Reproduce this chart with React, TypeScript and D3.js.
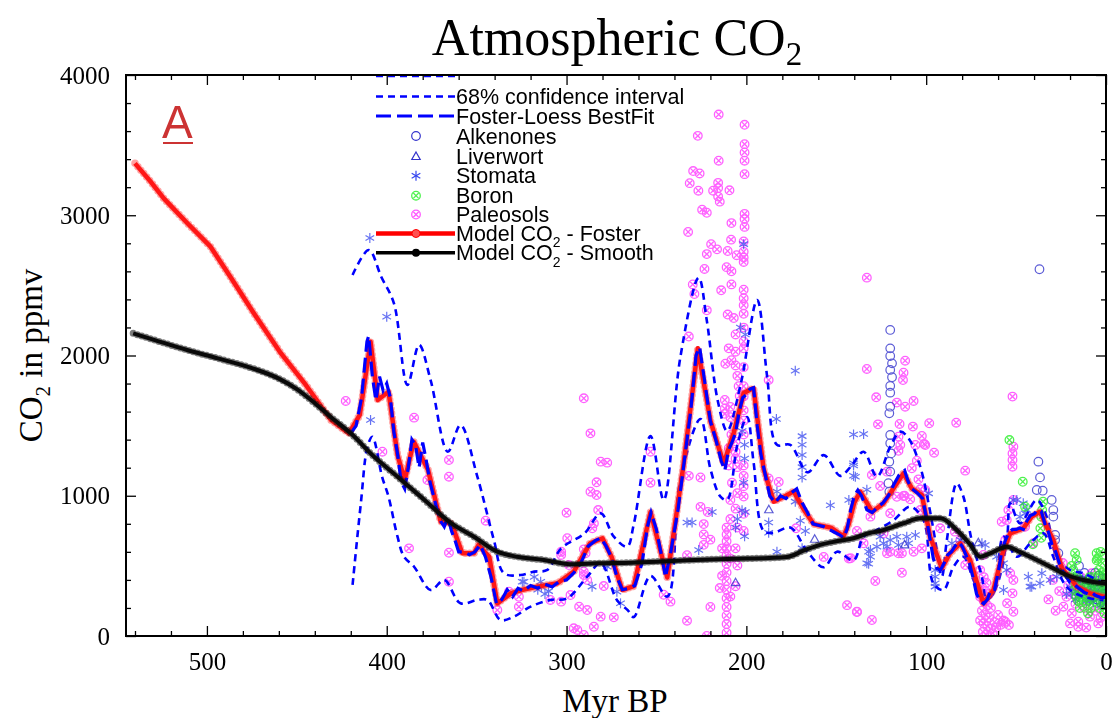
import React, { useEffect, useRef } from 'react'
import * as d3 from 'd3'

// ---- data (age in Myr BP, CO2 in ppmv) ----
const modelFoster: [number, number][] = [
  [540, 3370], [531, 3235], [524, 3120], [511, 2945], [498, 2776], [487, 2562], [474, 2303],
  [459, 2018], [445, 1790], [431, 1540], [421, 1445], [415, 1576], [409, 2098], [405, 1683],
  [399, 1742], [394, 1290], [390, 1112], [385, 1386], [377, 1184], [370, 815], [364, 803],
  [358, 590], [351.5, 590], [349, 649], [343, 565], [338.5, 233], [331, 304], [325, 328],
  [316, 352], [305, 376], [296, 459], [287, 661], [280, 697], [275, 565], [269, 328],
  [262.6, 355], [253.3, 884], [244, 417], [235, 1216], [227, 2051], [220, 1535], [212.6, 1228],
  [207, 1450], [201.5, 1732], [196, 1768], [190.4, 1191], [184.8, 958], [178, 1000],
  [173.7, 1031], [168, 900], [162.6, 798], [153, 773], [146, 711], [143, 800], [140, 950],
  [136.7, 1029], [130, 886], [123.7, 946], [112.6, 1160], [108, 1053], [102.4, 1005],
  [97.8, 708], [91.3, 483], [86.7, 590], [81, 661], [75.6, 542], [68.2, 233], [62.6, 328],
  [57, 613], [53.3, 732], [46, 768], [41.3, 851], [36.7, 886], [33, 779], [29.3, 684],
  [24.6, 483], [19, 399], [16.3, 352], [8.9, 304], [1.5, 280], [0, 280],
]

const modelSmooth: [number, number][] = [
  [541, 2158], [529, 2110], [511, 2039], [494, 1980], [475, 1910], [460, 1835], [450, 1760],
  [440, 1660], [431, 1560], [420, 1445], [407, 1278], [394, 1136], [379, 970], [364, 803],
  [351.5, 708], [338.5, 601], [327.5, 565], [312.6, 542], [298, 512], [283, 518], [264, 523],
  [250, 530], [233, 540], [215, 548], [199.6, 552], [177.4, 564], [168, 610], [159, 650],
  [150, 675], [141, 695], [131, 736], [127, 745], [112.6, 804], [103.3, 839], [92, 839],
  [83, 756], [76, 660], [70, 565], [64.4, 590], [55.2, 637], [48, 600], [42.2, 565], [31, 494],
  [22, 435], [12.6, 399], [1.5, 376], [0, 375],
]

const fosterFit: [number, number][] = [
  [420, 1445], [417, 1500], [414, 1700], [411, 2100], [410, 2140], [408, 1850], [406, 1680],
  [404, 1850], [402, 1750], [400, 1800], [398, 1700], [396, 1450], [394, 1300], [392, 1100],
  [390, 1050], [388, 1200], [386, 1400], [384, 1360], [382, 1200], [380, 1380], [378, 1250],
  [376, 1100], [374, 1000], [372, 900], [370, 820], [368, 780], [366, 850], [364, 750],
  [362, 680], [360, 600], [357, 600], [354, 580], [351, 600], [348, 650], [345, 560],
  [342, 420], [339, 230], [336, 260], [333, 330], [330, 280], [327, 340], [324, 320],
  [320, 360], [316, 340], [312, 370], [308, 350], [304, 390], [300, 400], [296, 450],
  [292, 520], [288, 640], [284, 680], [281, 700], [278, 640], [275, 560], [272, 420],
  [269, 330], [265, 340], [262, 360], [258, 520], [255, 780], [253, 880], [250, 760],
  [247, 560], [245, 420], [242, 600], [238, 900], [235, 1200], [231, 1600], [228, 2000],
  [226, 2060], [223, 1800], [220, 1530], [217, 1400], [214, 1250], [212, 1180], [210, 1320],
  [208, 1380], [206, 1450], [204, 1600], [202, 1700], [200, 1720], [198, 1760], [196, 1770],
  [194, 1500], [192, 1300], [190, 1180], [187, 1000], [184, 950], [181, 1000], [178, 980],
  [175, 1020], [172, 1050], [169, 950], [166, 880], [163, 800], [160, 790], [157, 780],
  [154, 760], [151, 740], [148, 720], [146, 700], [144, 760], [142, 900], [140, 1000],
  [138, 1040], [136, 1000], [133, 900], [130, 880], [127, 920], [124, 950], [121, 1000],
  [118, 1080], [115, 1150], [112, 1180], [110, 1100], [108, 1050], [105, 1020], [102, 980],
  [100, 850], [98, 700], [96, 550], [94, 480], [92, 470], [90, 520], [88, 580], [86, 600],
  [84, 640], [82, 670], [80, 640], [78, 580], [76, 520], [74, 420], [72, 300], [70, 250],
  [68, 230], [66, 260], [64, 330], [62, 330], [60, 450], [58, 600], [56, 680], [54, 740],
  [52, 760], [50, 760], [48, 770], [46, 760], [44, 820], [42, 860], [40, 870], [38, 900],
  [36, 890], [34, 800], [32, 740], [30, 650], [28, 600], [26, 520], [24, 460], [22, 420],
  [20, 380], [18, 370], [16, 350], [14, 330], [12, 310], [10, 300], [8, 310], [6, 290],
  [4, 280], [2, 270], [0, 280],
]

const ciUpper: [number, number][] = [
  [419, 2574], [410, 2752], [403, 2560], [396, 2372], [388.5, 1790], [382, 2075], [375.6, 1825],
  [366, 1314], [359, 1504], [349.6, 1136], [340.4, 684], [334.8, 447], [325.6, 435], [318, 459],
  [310.7, 471], [303, 625], [290, 732], [281, 875], [273.7, 708], [266.3, 637], [262.6, 798],
  [253.3, 1426], [246, 970], [236.7, 1989], [226.5, 2555], [222, 2249], [216, 1683],
  [210.7, 1462], [203, 1805], [194, 2396], [188.5, 1855], [183, 1363], [175.6, 1363],
  [166, 1167], [157, 1290], [147.8, 1142], [142, 1207], [134.8, 1314], [127.4, 1136],
  [120, 1350], [114.4, 1457], [109.8, 1410], [103.3, 1207], [98, 900], [95, 684], [91.3, 423],
  [88.5, 684], [83, 1089], [79.3, 993], [75, 700], [69, 420], [66.3, 257], [61, 350],
  [55, 700], [53.3, 946], [47.8, 803], [38.5, 970], [33, 851], [27.4, 565], [20, 471],
  [12.6, 447], [1.5, 376],
]

const ciLower: [number, number][] = [
  [419, 364], [414.4, 946], [410.7, 1350], [408, 1421], [402.6, 1136], [399, 993], [394, 708],
  [390.4, 565], [384.8, 494], [375.6, 328], [368, 399], [359, 233], [349.6, 257], [344, 257],
  [336.7, 114], [329.3, 138], [320, 209], [309, 257], [299.6, 269], [288.5, 423], [281, 518],
  [272, 257], [266, 185], [262.6, 135], [253.3, 428], [244, 281], [236.7, 1117], [225.5, 1547],
  [220, 1191], [214.4, 994], [210.7, 970], [205, 1363], [199.6, 1562], [196, 1241],
  [190.4, 749], [184.8, 736], [175.6, 773], [166, 601], [157, 490], [149.6, 601], [140.4, 540],
  [134.8, 708], [127.4, 756], [118, 827], [109, 922], [101.5, 827], [96, 376], [90.4, 328],
  [84.8, 494], [79.3, 565], [73.7, 399], [68.2, 257], [62.6, 304], [57, 708], [49.6, 565],
  [42.2, 661], [34.8, 732], [29.3, 565], [22, 352], [12.6, 280], [1.5, 257],
]

const paleosols: [number, number][] = [
  [422.8, 1676], [384.8, 1557], [402.4, 1314], [365.4, 1255], [365.4, 1136], [377.4, 1112],
  [387.6, 625], [365.4, 594], [365.4, 387], [345, 822], [338.5, 185], [290.4, 1695],
  [286.7, 1445], [281, 1243], [277.4, 1236], [283.3, 1096], [286.7, 1029], [283.3, 1005],
  [282.4, 898], [300, 879], [284.8, 803], [285.7, 768], [299.6, 697], [303, 601], [303, 578],
  [290.4, 618], [290.4, 459], [297.8, 292], [288.5, 399], [279.3, 356], [303, 245], [293, 209],
  [288.5, 185], [281, 138], [273.7, 133], [296, 55], [294, 43], [290.4, 7], [284.8, 66],
  [326.5, 209], [332, 316], [298.7, 506], [326.5, 280], [309, 257], [289.4, 590], [290.4, 435],
  [253.3, 1314], [253.3, 1093], [246, 294], [242.2, 245], [233, 576], [233, 109], [232, 1142],
  [232, 2135], [232.4, 2881],
  [215.4, 3718], [201, 3645], [227, 3566], [215.4, 3389], [201, 3507], [201, 3448], [201, 3389],
  [201, 3293], [229.6, 3315], [226, 3298], [231.5, 3229], [226.7, 3175], [218.5, 3175],
  [215.7, 3231], [215.7, 3194], [215.7, 3133], [214.8, 3097], [209.4, 3178], [224.6, 3040],
  [222, 3018], [201, 3010], [201, 2973], [201, 2917], [208.3, 2944], [219.6, 2794],
  [216.3, 2757], [208.5, 2826], [201.5, 2813], [201.5, 2740], [201.5, 2698], [201.5, 2667],
  [210.4, 2745], [222, 2723], [205.4, 2715], [223.3, 2617], [211, 2630], [208.3, 2600],
  [214, 2465], [229.8, 2507], [228.9, 2438], [208.3, 2507], [201.5, 2469], [201.5, 2408],
  [201.5, 2359], [201.5, 2297], [222, 2322], [210.4, 2292], [207, 2267], [206, 2150],
  [201.5, 2199], [201.5, 2100], [201.5, 2051], [209.8, 2051], [206, 2027], [208.3, 1966],
  [211.7, 1941], [206, 1929], [205, 1855], [201.5, 1917], [187.6, 1825], [204.3, 1781],
  [203.7, 1712], [212, 1683], [212, 1621], [212, 1584], [208.9, 1634], [208.9, 1560],
  [201.5, 1781], [201.5, 1707], [201.5, 1609], [201.5, 1535], [201.5, 1437], [208.3, 1437],
  [206, 1388], [209.8, 1339], [206, 1314], [206, 1265], [209.8, 1216], [205, 1204],
  [201.5, 1216], [201.5, 1142], [201.5, 1068], [201.5, 994], [208, 1093], [205, 1019],
  [208.9, 970], [206, 908], [208.9, 834], [205, 773], [201.5, 871], [201.5, 749], [211, 773],
  [211, 724], [211, 675], [211, 625], [211, 576], [211, 515], [211, 453], [211, 392], [211, 330],
  [211, 269], [211, 207], [211, 146], [211, 85], [211, 23], [213.5, 625], [213.5, 429],
  [208.9, 552], [206, 625], [205, 503], [206, 355], [214.8, 342], [208.9, 281], [222, 0],
  [221.5, 884], [223.7, 798], [223.7, 724], [223.7, 650], [220, 687], [225.5, 1130],
  [220, 207], [225.5, 921], [187.6, 1123], [182, 1098], [172.4, 768], [157, 564], [143, 552],
  [144, 220], [138.5, 171], [133, 2555], [133, 1904],
  [127.8, 1702], [111.7, 1963], [112.6, 1877], [112.9, 1825], [116.3, 1664], [111.7, 1635],
  [107, 1676], [126.8, 1509], [114.8, 1512], [107.4, 1493], [98.3, 1517], [83.3, 1521],
  [115.4, 1421], [114.4, 1362], [102.4, 1426], [101.1, 1369], [95.6, 1307], [105.2, 1250],
  [108, 1196], [104.3, 1117], [103.3, 1046], [125.6, 1070], [130.2, 1148], [116.3, 993],
  [112.6, 998], [108.9, 975], [103.3, 898], [120, 875], [123.7, 732], [131, 851], [138.5, 749],
  [134.8, 661], [120, 601], [113.5, 590], [107, 601], [102.4, 625], [78.3, 1179], [81, 684],
  [78.3, 506], [142, 554], [113.5, 451], [128.3, 392], [138.5, 173], [130.2, 114],
  [115.4, 1320], [106, 1362], [100.5, 1362], [121.8, 1172], [112, 1000], [100.5, 1041],
  [121.8, 590], [115.4, 590], [92.2, 768], [84, 744], [68.2, 578],
  [52, 1707], [51.5, 1350], [52, 1302], [52, 1255], [52, 1207], [51.5, 970], [58, 815],
  [56, 684], [45, 779], [40.4, 661], [55.2, 827], [54.3, 898],
  [70, 470], [68, 420], [66.5, 380], [69, 350], [67, 320], [65, 300], [70, 280], [68, 250],
  [66, 220], [64, 200], [69, 180], [67, 150], [65, 130], [70, 110], [68, 90], [66, 70], [64, 50],
  [68.5, 30], [66.5, 10], [63, 20], [61, 60], [62, 100], [60, 150], [58.5, 80], [57, 110],
  [55, 233], [56, 102], [54, 78], [52, 304], [51.5, 173], [51.5, 399], [53.3, 447],
  [32, 261], [23.7, 209], [19, 162], [15.4, 102], [8.9, 138], [4.3, 90], [15.4, 66], [12, 200],
  [10, 250], [6, 180], [3, 130], [1, 220], [18, 300], [14, 420], [8, 447], [22, 280], [26, 320],
  [20, 90], [11, 60], [17, 230], [24, 520], [5, 320], [2, 400], [28, 180], [29.5, 400],
  [21, 360],
]

const stomata: [number, number][] = [
  [409.4, 2838], [400, 2277], [409, 1540], [324.6, 387], [314.4, 387], [316, 330], [312, 300],
  [318, 420], [314, 350], [310, 320], [323.7, 387], [285.8, 352], [272, 316], [270, 233],
  [277.4, 494], [201.5, 2794], [203.3, 2199], [200.6, 2150], [172.8, 1892], [183.3, 1547],
  [169, 1425], [169, 1363], [169, 1290], [169, 1204], [169, 1130], [172.8, 958], [170, 822],
  [167.2, 749], [183, 1031], [187.6, 809], [187.6, 736], [201.5, 1093], [202.4, 896],
  [205, 834], [200.6, 884], [206, 773], [201, 711], [201, 1363], [202.4, 1462], [201, 1265],
  [233, 809], [230.2, 809], [219, 884], [226.5, 613], [183, 601], [169, 625], [153.3, 932],
  [140.4, 1437], [134.8, 1440], [140.4, 1216], [140.4, 1142], [143, 970], [133, 1043],
  [132, 601], [132, 515], [140.4, 1231], [139.4, 1136], [98.7, 1017], [125.6, 708],
  [123.7, 661], [120, 684], [116.3, 708], [110.8, 708], [106, 720], [109.8, 661], [115.4, 649],
  [121.8, 637], [127.4, 637], [131, 565], [133, 518], [131, 613], [95, 423], [95, 376],
  [95, 471], [95, 352], [85.7, 661], [81, 684], [69, 661], [67.2, 649], [60.8, 565], [57, 518],
  [55.2, 471], [49.6, 970], [46, 946], [45, 875], [47.8, 851], [42.2, 352], [35.7, 447],
  [36.7, 376], [31, 399], [27.4, 423], [23.7, 471], [51.5, 970], [44, 898], [43.2, 423],
  [41.3, 352], [57, 328], [18, 420], [16, 380], [14, 350], [12, 330], [10, 310], [8, 300],
  [6, 280], [4, 270], [2, 260], [1, 300], [15, 280], [11, 250], [7, 240], [3, 220], [13, 400],
  [9, 360], [5, 330], [0.5, 340], [19, 300], [17, 260], [17, 320], [15, 420], [13, 280],
  [11, 400], [9, 250], [7, 350], [5, 290], [3, 380], [1.5, 250], [20, 350], [22, 300],
]

const alkenones: [number, number][] = [
  [37, 2615], [120, 2182], [120, 2051], [120, 1996], [119, 1944], [120, 1897], [119, 1845],
  [120, 1783], [120, 1735], [120, 1635], [120.5, 1588], [120, 1433], [120, 1374],
  [119.5, 1302], [120.5, 1243], [120, 1172], [121, 1089], [120.5, 1029], [37.6, 1243],
  [36.7, 1131], [38.5, 1041], [35.2, 1036], [30.2, 970], [29.3, 898], [29.3, 851], [28.3, 720],
  [28.3, 684], [26.5, 590], [15, 500], [12, 450], [10, 400], [8, 380], [6, 350], [4, 330],
  [2, 300], [1, 280], [14, 400], [11, 350], [9, 300], [7, 280], [5, 260], [3, 240], [1, 220],
  [13, 320], [0.5, 360], [2, 410], [4, 430], [6, 450], [0.3, 300], [3, 290],
]

const boron: [number, number][] = [
  [53.7, 1397], [46.3, 1100], [45, 922], [40.7, 654], [35, 958], [35.5, 898], [36, 851],
  [36.5, 768], [36, 700], [17.2, 590], [16.3, 542], [18.2, 471], [16, 420], [17, 376], [14, 300],
  [12.6, 280], [11, 233], [10, 162], [5.2, 590], [5.2, 540], [4, 471], [3, 420], [2.5, 376],
  [1.5, 330], [1, 280], [1.5, 233], [0.8, 162], [8, 350], [7, 300], [6, 250], [9, 420],
  [13, 380], [15, 330], [3.5, 200], [2, 520], [0.5, 440], [19, 500], [18, 420], [17.5, 330],
  [16.5, 280], [15.5, 250], [14.5, 200], [13.5, 240], [12, 350], [11.5, 300], [10.5, 380],
  [9.5, 260], [8.5, 200], [7.5, 420], [6.5, 380], [5.5, 330], [4.5, 280], [3.8, 350],
  [2.8, 300], [1.8, 450], [0.8, 380], [0.3, 250], [4.5, 550], [3, 600],
]

const liverwort: [number, number][] = [
  [112, 650], [71, 665], [206, 380], [162, 690], [187.5, 900],
]

const xMajor = [500, 400, 300, 200, 100, 0]
const xMinor = [540, 520, 480, 460, 440, 420, 380, 360, 340, 320, 280, 260, 240, 220, 180, 160, 140, 120, 80, 60, 40, 20]
const yMajor = [0, 1000, 2000, 3000, 4000]
const yMinor = [200, 400, 600, 800, 1200, 1400, 1600, 1800, 2200, 2400, 2600, 2800, 3200, 3400, 3600, 3800]

const legendLabels = [
  '68% confidence interval',
  'Foster-Loess BestFit',
  'Alkenones',
  'Liverwort',
  'Stomata',
  'Boron',
  'Paleosols',
  'Model CO|2| - Foster',
  'Model CO|2| - Smooth',
]

const W = 1113
const H = 718
const margin = { left: 126, right: 7, top: 75, bottom: 82 }

const x = d3.scaleLinear().domain([545, 0]).range([margin.left, W - margin.right])
const y = d3.scaleLinear().domain([0, 4000]).range([H - margin.bottom, margin.top])

const BLUE = '#0000ff'
const serif = '"Liberation Serif", "Times New Roman", serif'
const sans = '"Liberation Sans", Arial, sans-serif'

function CircleX({ cx, cy, color }: { cx: number; cy: number; color: string }) {
  const r = 4.3
  const d = r * 0.62
  return (
    <g transform={`translate(${cx},${cy})`} stroke={color} strokeWidth={1.3} fill="none">
      <circle r={r} />
      <line x1={-d} y1={-d} x2={d} y2={d} />
      <line x1={-d} y1={d} x2={d} y2={-d} />
    </g>
  )
}

function Star({ cx, cy }: { cx: number; cy: number }) {
  const s = 5
  const a = s * 0.866
  const b = s * 0.5
  return (
    <g transform={`translate(${cx},${cy})`} stroke="#3344ee" strokeWidth={1.2}>
      <line x1={0} y1={-s} x2={0} y2={s} />
      <line x1={-a} y1={-b} x2={a} y2={b} />
      <line x1={-a} y1={b} x2={a} y2={-b} />
    </g>
  )
}

function Tri({ cx, cy }: { cx: number; cy: number }) {
  return (
    <path
      transform={`translate(${cx},${cy})`}
      d="M0,-4.5L4.2,3L-4.2,3Z"
      fill="none"
      stroke="#3333cc"
      strokeWidth={1.2}
    />
  )
}

function SubText({ label, x0, y0, size }: { label: string; x0: number; y0: number; size: number }) {
  const parts = label.split('|')
  if (parts.length === 1) {
    return <text x={x0} y={y0}>{label}</text>
  }
  return (
    <text x={x0} y={y0}>
      {parts[0]}
      <tspan dy={size * 0.3} fontSize={size * 0.65}>{parts[1]}</tspan>
      <tspan dy={-size * 0.3}>{parts[2]}</tspan>
    </text>
  )
}

export default function App() {
  const axesRef = useRef<SVGGElement>(null)

  useEffect(() => {
    const g = d3.select(axesRef.current)
    g.selectAll('*').remove()
    const bottom = H - margin.bottom
    const right = W - margin.right

    const addAxis = (axis: any, transform: string, labels: boolean) => {
      const a = g.append('g').attr('transform', transform).call(axis)
      a.select('.domain').remove()
      a.selectAll('line').attr('stroke', '#000').attr('stroke-width', 1.3)
      if (labels) {
        a.selectAll('text')
          .attr('font-family', serif)
          .attr('font-size', 25)
          .attr('fill', '#000')
      } else {
        a.selectAll('text').remove()
      }
    }

    addAxis(d3.axisBottom(x).tickValues(xMajor).tickSize(-10).tickPadding(16).tickFormat(d3.format('d')), `translate(0,${bottom})`, true)
    addAxis(d3.axisBottom(x).tickValues(xMinor).tickSize(-5), `translate(0,${bottom})`, false)
    addAxis(d3.axisTop(x).tickValues(xMajor).tickSize(-10), `translate(0,${margin.top})`, false)
    addAxis(d3.axisTop(x).tickValues(xMinor).tickSize(-5), `translate(0,${margin.top})`, false)
    addAxis(d3.axisLeft(y).tickValues(yMajor).tickSize(-10).tickPadding(16).tickFormat(d3.format('d')), `translate(${margin.left},0)`, true)
    addAxis(d3.axisLeft(y).tickValues(yMinor).tickSize(-5), `translate(${margin.left},0)`, false)
    addAxis(d3.axisRight(y).tickValues(yMajor).tickSize(-10), `translate(${right},0)`, false)
    addAxis(d3.axisRight(y).tickValues(yMinor).tickSize(-5), `translate(${right},0)`, false)
  }, [])

  const lin = d3.line<[number, number]>().x((d) => x(d[0])).y((d) => y(d[1]))
  const smooth = d3
    .line<[number, number]>()
    .x((d) => x(d[0]))
    .y((d) => y(d[1]))
    .curve(d3.curveMonotoneX)
  const ci = d3
    .line<[number, number]>()
    .x((d) => x(d[0]))
    .y((d) => y(d[1]))
    .curve(d3.curveCatmullRom.alpha(0.5))

  const plotW = W - margin.left - margin.right
  const plotH = H - margin.top - margin.bottom

  const lx0 = 376
  const lx1 = 455
  const lxm = 416
  const rowY = [96.5, 116, 136, 156.5, 175.7, 195.7, 214.5, 233.5, 252.7]

  return (
    <svg
      width={W}
      height={H}
      style={{ position: 'absolute', left: 0, top: 0, background: '#fff' }}
    >
      <defs>
        <clipPath id="plotClip">
          <rect x={margin.left} y={margin.top} width={plotW} height={plotH} />
        </clipPath>
      </defs>

      <rect x={0} y={0} width={W} height={H} fill="#fff" />

      <g clipPath="url(#plotClip)">
        <g opacity={0.72}>
          {paleosols.map((d, i) => (
            <CircleX key={'p' + i} cx={x(d[0])} cy={y(d[1])} color="#ff22ff" />
          ))}
        </g>
        <g opacity={0.75}>
          {stomata.map((d, i) => (
            <Star key={'s' + i} cx={x(d[0])} cy={y(d[1])} />
          ))}
        </g>
        <g opacity={0.8}>
          {alkenones.map((d, i) => (
            <circle key={'a' + i} cx={x(d[0])} cy={y(d[1])} r={4.3} fill="none" stroke="#3333cc" strokeWidth={1.2} />
          ))}
          {liverwort.map((d, i) => (
            <Tri key={'l' + i} cx={x(d[0])} cy={y(d[1])} />
          ))}
        </g>
        <g opacity={0.8}>
          {boron.map((d, i) => (
            <CircleX key={'b' + i} cx={x(d[0])} cy={y(d[1])} color="#22ee22" />
          ))}
        </g>

        <path d={ci(ciUpper) ?? ''} fill="none" stroke={BLUE} strokeWidth={2.6} strokeDasharray="7 5" />
        <path d={ci(ciLower) ?? ''} fill="none" stroke={BLUE} strokeWidth={2.6} strokeDasharray="7 5" />

        <path d={lin(modelFoster) ?? ''} fill="none" stroke="#ff0000" strokeWidth={4.5} strokeLinejoin="round" />
        <path
          d={lin(modelFoster) ?? ''}
          fill="none"
          stroke="#ff3030"
          strokeWidth={7.5}
          strokeLinecap="round"
          strokeDasharray="0 4.5"
          opacity={0.45}
        />

        <path d={lin(fosterFit) ?? ''} fill="none" stroke={BLUE} strokeWidth={3.2} strokeDasharray="15 6" />

        <path d={smooth(modelSmooth) ?? ''} fill="none" stroke="#000" strokeWidth={4} />
        <path
          d={smooth(modelSmooth) ?? ''}
          fill="none"
          stroke="#111"
          strokeWidth={7}
          strokeLinecap="round"
          strokeDasharray="0 4.5"
          opacity={0.55}
        />
      </g>

      {/* legend */}
      <g fontFamily={sans} fontSize={21.5} fill="#000">
        <line x1={lx0} x2={lx1} y1={76} y2={76} stroke={BLUE} strokeWidth={2.6} strokeDasharray="7 5" />
        <line x1={lx0} x2={lx1} y1={rowY[0]} y2={rowY[0]} stroke={BLUE} strokeWidth={2.6} strokeDasharray="7 5" />
        <line x1={lx0} x2={lx1} y1={rowY[1]} y2={rowY[1]} stroke={BLUE} strokeWidth={3.2} strokeDasharray="15 6" />
        <circle cx={lxm} cy={rowY[2]} r={4.3} fill="none" stroke="#3333cc" strokeWidth={1.2} />
        <Tri cx={lxm} cy={rowY[3]} />
        <Star cx={lxm} cy={rowY[4]} />
        <g opacity={0.8}>
          <CircleX cx={lxm} cy={rowY[5]} color="#22ee22" />
        </g>
        <g opacity={0.75}>
          <CircleX cx={lxm} cy={rowY[6]} color="#ff22ff" />
        </g>
        <line x1={lx0} x2={lx1} y1={rowY[7]} y2={rowY[7]} stroke="#ff0000" strokeWidth={4.5} />
        <circle cx={lxm} cy={rowY[7]} r={4} fill="#ff5050" stroke="#ff0000" strokeWidth={1} />
        <line x1={lx0} x2={lx1} y1={rowY[8]} y2={rowY[8]} stroke="#000" strokeWidth={3.5} />
        <circle cx={lxm} cy={rowY[8]} r={4} fill="#000" />
        {legendLabels.map((l, i) => (
          <SubText key={l} label={l} x0={lx1 + 1} y0={rowY[i] + 7.5} size={21.5} />
        ))}
      </g>

      <g ref={axesRef} />
      <rect
        x={margin.left}
        y={margin.top}
        width={plotW}
        height={plotH}
        fill="none"
        stroke="#000"
        strokeWidth={2}
      />

      {/* panel label */}
      <text x={162} y={138} fontFamily={sans} fontSize={46} fill="#cc3333">A</text>
      <line x1={163} x2={193} y1={143} y2={143} stroke="#cc3333" strokeWidth={2} />

      {/* title and axis titles */}
      <text x={617} y={55} textAnchor="middle" fontFamily={serif} fontSize={52} fill="#000">
        Atmospheric CO<tspan dy={10} fontSize={33}>2</tspan>
      </text>
      <text
        transform={`translate(42,${(margin.top + H - margin.bottom) / 2}) rotate(-90)`}
        textAnchor="middle"
        fontFamily={serif}
        fontSize={33}
        fill="#000"
      >
        CO<tspan dy={8} fontSize={21}>2</tspan>
        <tspan dy={-8}> in ppmv</tspan>
      </text>
      <text x={615} y={712} textAnchor="middle" fontFamily={serif} fontSize={33} fill="#000">
        Myr BP
      </text>
    </svg>
  )
}
